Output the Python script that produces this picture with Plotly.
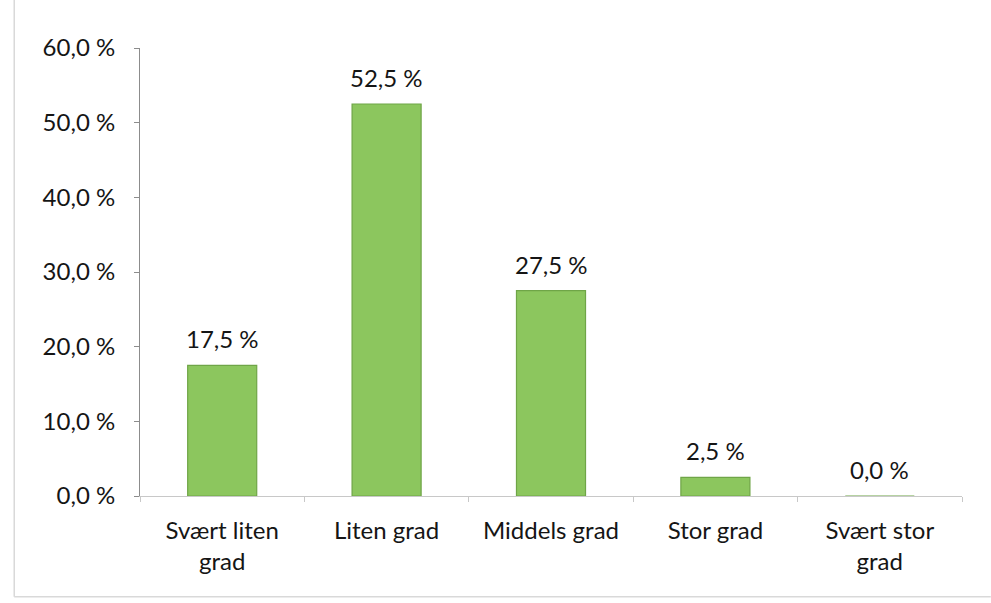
import plotly.graph_objects as go

categories = ["Svært liten<br>grad", "Liten grad", "Middels grad", "Stor grad", "Svært stor<br>grad"]
shares = [17.5, 52.5, 27.5, 2.5, 0.0]
y_ticks = [0, 10, 20, 30, 40, 50, 60]


def pct(v):
    return f"{v:.1f}".replace(".", ",") + " %"


font_family = "Lato, 'Open Sans', sans-serif"
text_color = "#151515"
font_size = 24

fig = go.Figure()
fig.add_trace(go.Bar(
    x=categories,
    y=shares,
    width=0.42,
    marker=dict(color="#8cc65e", line=dict(color="#6fa547", width=1.2)),
    hoverinfo="skip",
))

# value labels above each bar
for cat, v in zip(categories, shares):
    fig.add_annotation(
        x=cat, y=v, text=pct(v), showarrow=False,
        yanchor="bottom", yshift=10,
        font=dict(size=font_size, color=text_color, family=font_family),
    )

fig.update_layout(
    width=991,
    height=603,
    margin=dict(l=140, r=29, t=48, b=107),
    paper_bgcolor="white",
    plot_bgcolor="white",
    showlegend=False,
    font=dict(family=font_family, size=font_size, color=text_color),
    shapes=[
        dict(type="line", xref="paper", yref="paper", x0=-0.153, x1=-0.153, y0=-0.225, y1=1.11,
             line=dict(color="#d9d9d9", width=1.5)),
        dict(type="line", xref="paper", yref="paper", x0=-0.153, x1=1.035, y0=-0.225, y1=-0.225,
             line=dict(color="#d9d9d9", width=1.5)),
    ],
)

fig.update_yaxes(
    range=[0, 60],
    tickmode="array",
    tickvals=y_ticks,
    ticktext=[pct(t) for t in y_ticks],
    showgrid=False,
    showline=True,
    linecolor="#8c8c8c",
    linewidth=1,
    ticks="outside",
    ticklen=5,
    tickcolor="#8c8c8c",
    zeroline=False,
    ticklabelstandoff=14,
    tickfont=dict(size=font_size),
)

fig.update_xaxes(
    showgrid=False,
    showline=True,
    linecolor="#c8c8c8",
    linewidth=1.2,
    ticks="outside",
    tickson="boundaries",
    ticklen=5,
    tickcolor="#c8c8c8",
    ticklabelstandoff=13,
    tickfont=dict(size=font_size),
)

fig.write_html("out.html")
